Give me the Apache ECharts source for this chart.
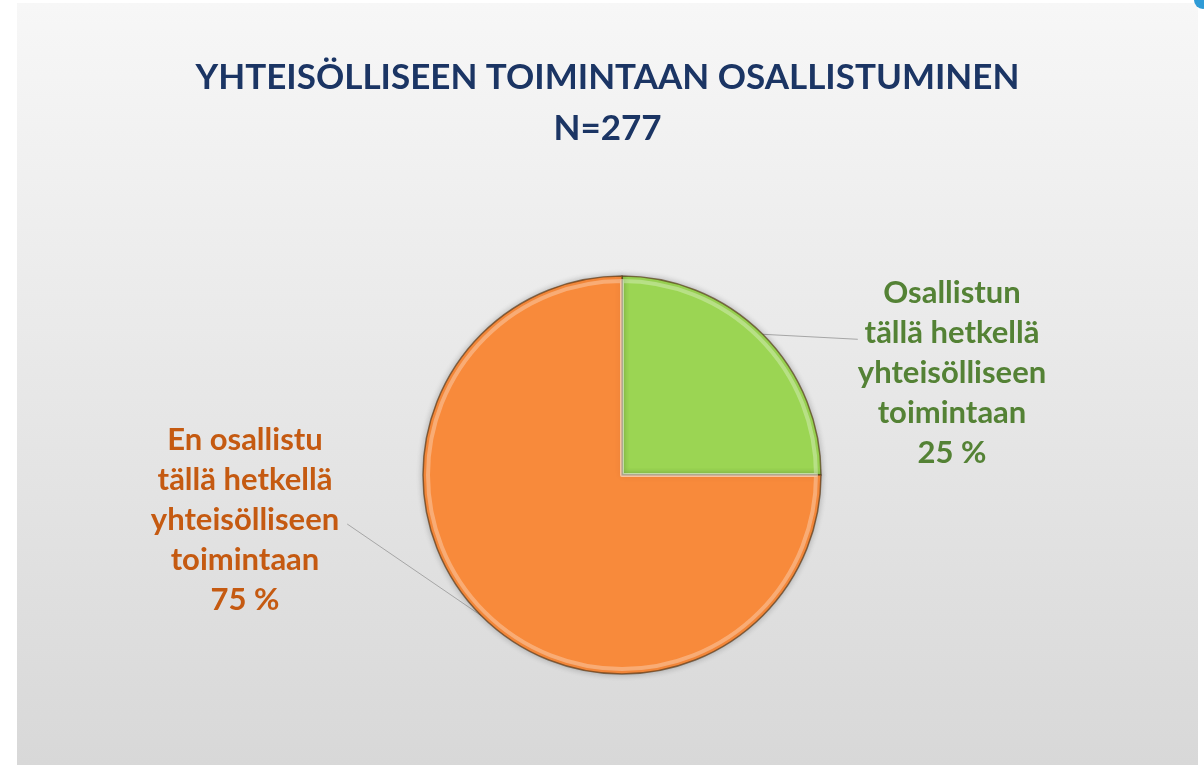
<!DOCTYPE html>
<html>
<head>
<meta charset="utf-8">
<script src="https://cdn.jsdelivr.net/npm/echarts@6/dist/echarts.min.js"></script>
<style>
  html, body { margin: 0; padding: 0; background: #ffffff; overflow: hidden; }
  #pie { position: absolute; left: 17px; top: 3px; width: 1181px; height: 762px; }
  #dot { position: absolute; left: 1194px; top: -9px; width: 18px; height: 18px; border-radius: 50%; background: #2f9bd6; }
</style>
</head>
<body>
<div id="pie"></div>
<div id="dot"></div>
<script>
// vastaukset
var titleLines = ['YHTEISÖLLISEEN TOIMINTAAN OSALLISTUMINEN', 'N=277'];
var categories = ['Osallistun\ntällä hetkellä\nyhteisölliseen\ntoimintaan', 'En osallistu\ntällä hetkellä\nyhteisölliseen\ntoimintaan'];
var percents = [25, 75];
var sliceColors = ['#9bd553', '#f88a3b'];
var labelColors = ['#548235', '#c55a11'];

var myChart = echarts.init(document.getElementById('pie'));

var pieData = [];
var rimData = [];
categories.forEach(function (c, i) {
  pieData.push({
    name: c,
    value: percents[i],
    itemStyle: { color: sliceColors[i] },
    label: { color: labelColors[i] }
  });
  rimData.push({ name: c, value: percents[i] });
});

myChart.setOption({
  backgroundColor: {
    type: 'linear', x: 0, y: 0, x2: 0, y2: 1,
    colorStops: [
      { offset: 0, color: '#f7f7f7' },
      { offset: 1, color: '#d8d8d8' }
    ]
  },
  title: {
    text: titleLines.join('\n'),
    left: 'center',
    top: 44,
    textStyle: {
      color: '#1b3564',
      fontFamily: 'Lato',
      fontWeight: 'bold',
      fontSize: 35,
      lineHeight: 51
    }
  },
  series: [
    {
      type: 'pie',
      center: [605, 472],
      radius: 199,
      startAngle: 90,
      clockwise: true,
      data: pieData,
      itemStyle: {
        borderColor: 'rgba(80,50,20,0.65)',
        borderWidth: 1.5,
        shadowBlur: 6,
        shadowColor: 'rgba(0,0,0,0.25)'
      },
      label: {
        show: true,
        position: 'outside',
        formatter: function (p) { return p.name + '\n' + p.value + ' %'; },
        fontFamily: 'Lato',
        fontWeight: 'bold',
        fontSize: 31,
        lineHeight: 40
      },
      labelLine: {
        show: true,
        length: 10,
        length2: 40,
        lineStyle: { color: '#a6a6a6', width: 1 }
      },
      labelLayout: function (params) {
        var right = params.dataIndex === 0;
        var cx = right ? 935 : 228;
        var cy = right ? 370 : 517;
        var w = params.labelRect.width;
        var p0 = params.labelLinePoints[0];
        var end = right ? [cx - w / 2, p0[1] + 5] : [cx + w / 2 + 8, cy + 4];
        return {
          x: cx,
          y: cy,
          align: 'center',
          verticalAlign: 'middle',
          labelLinePoints: [p0, end]
        };
      }
    },
    {
      // kevyt viistereuna
      type: 'pie',
      center: [605, 472],
      radius: 194,
      startAngle: 90,
      clockwise: true,
      silent: true,
      data: rimData,
      label: { show: false },
      labelLine: { show: false },
      itemStyle: {
        color: 'rgba(0,0,0,0)',
        borderColor: 'rgba(255,255,255,0.3)',
        borderWidth: 4
      }
    }
  ]
});
</script>
</body>
</html>
